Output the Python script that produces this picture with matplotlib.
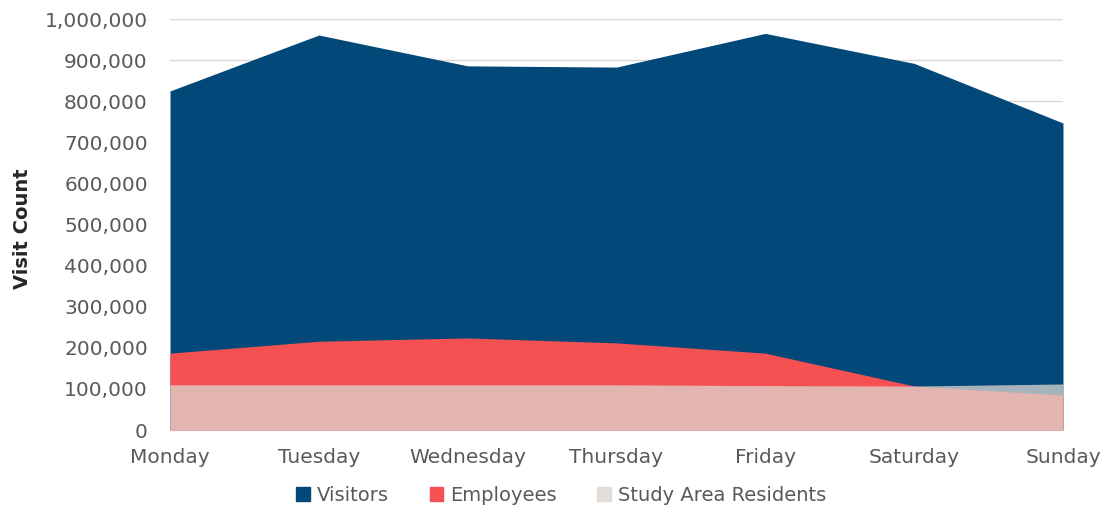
import matplotlib.pyplot as plt
from matplotlib.patches import Patch
from matplotlib.ticker import FuncFormatter

days = ["Monday", "Tuesday", "Wednesday", "Thursday", "Friday", "Saturday", "Sunday"]
visitors = [825000, 961000, 886000, 883000, 965000, 892000, 747000]
employees = [187000, 216000, 224000, 212000, 187000, 107000, 85000]
residents = [110000, 110000, 110000, 110000, 108000, 107000, 112000]

blue = "#024879"
red = "#F55052"
grey = "#DCD6D0"

plt.rcParams["font.family"] = "DejaVu Sans"

fig = plt.figure(figsize=(11.09, 5.11), dpi=100)
ax = fig.add_axes([0.1533, 0.1585, 0.8052, 0.8043])

x = range(len(days))
# areas overlap rather than stack; residents layer is see-through
ax.fill_between(x, 0, visitors, color=blue, lw=0, zorder=2)
ax.fill_between(x, 0, employees, color=red, lw=0, zorder=3)
ax.fill_between(x, 0, residents, color=grey, alpha=0.76, lw=0, zorder=4)

ax.set_xlim(0, len(days) - 1)
ax.set_ylim(0, 1000000)
ax.set_yticks(range(0, 1000001, 100000))
ax.yaxis.set_major_formatter(FuncFormatter(lambda v, p: f"{int(v):,}"))
ax.set_xticks(list(x))
ax.set_xticklabels(days)

ax.grid(axis="y", color="#D9D9D9", lw=1, zorder=1)
ax.set_axisbelow(True)
for s in ["top", "right", "left"]:
    ax.spines[s].set_visible(False)
ax.spines["bottom"].set_color("#D9D9D9")
ax.tick_params(length=0, colors="#595959", labelsize=14.5)
ax.tick_params(axis="y", pad=16)
ax.tick_params(axis="x", pad=13)

ax.set_ylabel("Visit Count", fontsize=14, fontweight="bold", color="#262626")
ax.yaxis.set_label_coords(-0.155, 0.49)

handles = [Patch(color=blue), Patch(color=red), Patch(color=grey, alpha=0.76)]
fig.legend(handles, ["Visitors", "Employees", "Study Area Residents"],
           loc="center", bbox_to_anchor=(0.506, 0.031), ncol=3, frameon=False,
           fontsize=14, handlelength=0.7, handleheight=0.7, handletextpad=0.35,
           columnspacing=2.1, labelcolor="#595959")

fig.savefig("out.png", dpi=100)
